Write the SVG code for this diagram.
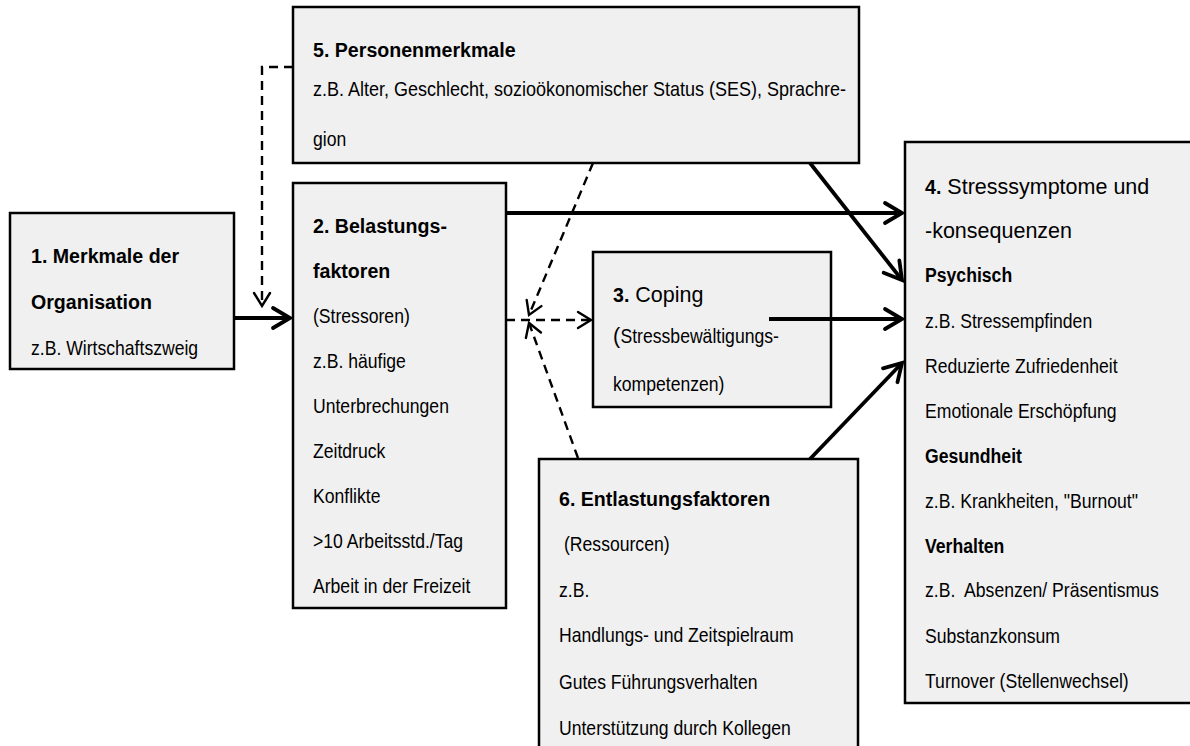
<svg xmlns="http://www.w3.org/2000/svg" width="1190" height="746" viewBox="0 0 1190 746">
<style>
  .box { fill: #f0f0f0; stroke: #000; stroke-width: 2.5; }
  text { fill: #000; }
  .t { font-family: "Liberation Sans", Arial, sans-serif; font-weight: bold; font-size: 19.6px; }
  .n { font-family: "Liberation Sans", Arial, sans-serif; font-size: 20px; }
  .nb { font-family: "Liberation Sans", Arial, sans-serif; font-size: 21px; font-weight: bold; }
  .r { font-family: "Liberation Sans", Arial, sans-serif; font-size: 21.5px; }
  .solid { fill: none; stroke: #000; stroke-width: 3.8; marker-end: url(#ah); }
  .dash { fill: none; stroke: #000; stroke-width: 2.4; stroke-dasharray: 9 6; marker-end: url(#ahd); }
</style>
<defs>
  <marker id="ah" viewBox="-22 -14 26 28" refX="0" refY="0" markerWidth="26" markerHeight="28" markerUnits="userSpaceOnUse" orient="auto">
    <path d="M-17,-10 L0,0 L-17,10" fill="none" stroke="#000" stroke-width="3.8" stroke-dasharray="none" stroke-linecap="round"/>
  </marker>
  <marker id="ahd" viewBox="-18 -12 22 24" refX="0" refY="0" markerWidth="22" markerHeight="24" markerUnits="userSpaceOnUse" orient="auto">
    <path d="M-13,-8 L0,0 L-13,8" fill="none" stroke="#000" stroke-width="2.4" stroke-dasharray="none" stroke-linecap="round"/>
  </marker>
</defs>

<g id="node1">
  <rect class="box" x="10" y="213" width="224" height="156"/>
  <text class="t" x="31" y="263">1. Merkmale der</text>
  <text class="t" x="31" y="309">Organisation</text>
  <text class="n" transform="translate(31,355) scale(0.88,1)">z.B. Wirtschaftszweig</text>
</g>

<g id="node5">
  <rect class="box" x="293" y="7" width="566" height="156"/>
  <text class="t" x="313" y="57">5. Personenmerkmale</text>
  <text class="n" transform="translate(313,96) scale(0.9,1)">z.B. Alter, Geschlecht, sozioökonomischer Status (SES), Sprachre-</text>
  <text class="n" transform="translate(313,146) scale(0.88,1)">gion</text>
</g>

<g id="node2">
  <rect class="box" x="293" y="183" width="213" height="425"/>
  <text class="t" x="313" y="233">2. Belastungs-</text>
  <text class="t" x="313" y="278">faktoren</text>
  <text class="n" transform="translate(313,323) scale(0.88,1)">(Stressoren)</text>
  <text class="n" transform="translate(313,368) scale(0.88,1)">z.B. häufige</text>
  <text class="n" transform="translate(313,413) scale(0.88,1)">Unterbrechungen</text>
  <text class="n" transform="translate(313,458) scale(0.88,1)">Zeitdruck</text>
  <text class="n" transform="translate(313,503) scale(0.88,1)">Konflikte</text>
  <text class="n" transform="translate(313,548) scale(0.88,1)">&gt;10 Arbeitsstd./Tag</text>
  <text class="n" transform="translate(313,593) scale(0.88,1)">Arbeit in der Freizeit</text>
</g>

<g id="node3">
  <rect class="box" x="593" y="252" width="238" height="155"/>
  <text x="613" y="302"><tspan class="t" font-size="21px">3.</tspan><tspan class="r" font-size="22px"> Coping</tspan></text>
  <text class="r" x="613" y="343" font-size="22px">(</text>
  <text class="n" transform="translate(620.5,343) scale(0.88,1)">Stressbewältigungs-</text>
  <text class="n" transform="translate(613,391) scale(0.88,1)">kompetenzen)</text>
</g>

<g id="node6">
  <rect class="box" x="539" y="459" width="319" height="320"/>
  <text class="t" x="559" y="506">6. Entlastungsfaktoren</text>
  <text class="n" transform="translate(564,551) scale(0.88,1)">(Ressourcen)</text>
  <text class="n" transform="translate(559,597) scale(0.88,1)">z.B.</text>
  <text class="n" transform="translate(559,642) scale(0.88,1)">Handlungs- und Zeitspielraum</text>
  <text class="n" transform="translate(559,689) scale(0.88,1)">Gutes Führungsverhalten</text>
  <text class="n" transform="translate(559,735) scale(0.88,1)">Unterstützung durch Kollegen</text>
</g>

<g id="node4">
  <rect class="box" x="905" y="142" width="320" height="561"/>
  <text x="925" y="194"><tspan class="t" font-size="21px">4.</tspan><tspan class="r"> Stresssymptome und</tspan></text>
  <text class="r" x="925" y="238">-konsequenzen</text>
  <text class="nb" transform="translate(925,282) scale(0.84,1)">Psychisch</text>
  <text class="n" transform="translate(925,328) scale(0.88,1)">z.B. Stressempfinden</text>
  <text class="n" transform="translate(925,373) scale(0.88,1)">Reduzierte Zufriedenheit</text>
  <text class="n" transform="translate(925,418) scale(0.88,1)">Emotionale Erschöpfung</text>
  <text class="nb" transform="translate(925,463) scale(0.84,1)">Gesundheit</text>
  <text class="n" transform="translate(925,508) scale(0.88,1)">z.B. Krankheiten, "Burnout"</text>
  <text class="nb" transform="translate(925,553) scale(0.84,1)">Verhalten</text>
  <text class="n" transform="translate(925,597) scale(0.88,1)">z.B.&#160; Absenzen/ Präsentismus</text>
  <text class="n" transform="translate(925,643) scale(0.88,1)">Substanzkonsum</text>
  <text class="n" transform="translate(925,688) scale(0.88,1)">Turnover (Stellenwechsel)</text>
</g>

<g id="connectors">
  <path class="solid" d="M234,318 L290,318"/>
  <path class="dash" d="M293,67 L262,67 L262,306"/>
  <path class="solid" d="M506,213 L902,213"/>
  <path class="solid" d="M810,163 L902,280"/>
  <path class="solid" d="M769,319 L902,319"/>
  <path class="solid" d="M810,459 L902,363"/>
  <path class="dash" d="M506,320 L591,320"/>
  <path class="dash" d="M593,163 L529,315"/>
  <path class="dash" d="M578,458 L529,323"/>
</g>
</svg>
